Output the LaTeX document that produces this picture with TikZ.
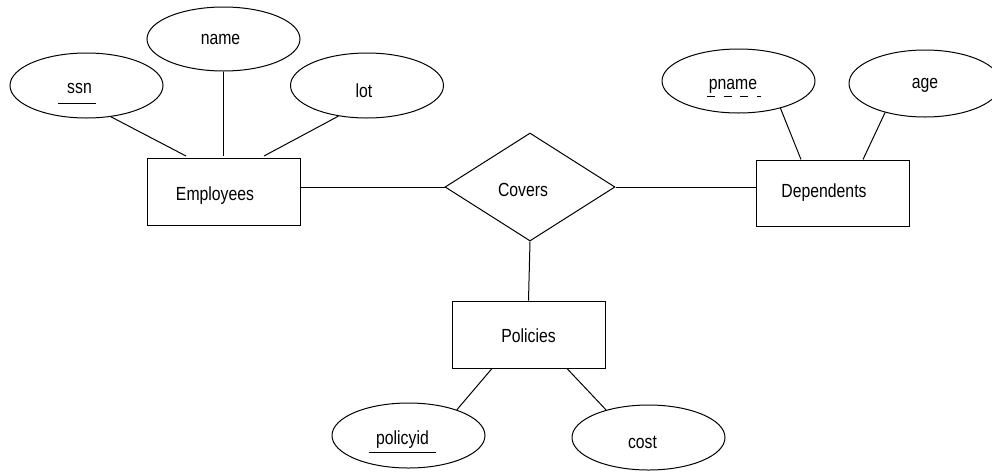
\documentclass[tikz,border=0pt]{standalone}
\usepackage{fontspec}
\setmainfont[FakeStretch=0.83]{Liberation Sans}
\usetikzlibrary{shapes.geometric,calc}
\begin{document}
\begin{tikzpicture}[x=1pt,y=-1pt,line width=1pt,
  attr/.style={draw,ellipse,minimum width=153pt,minimum height=65pt,inner sep=0pt},
  entity/.style={draw,rectangle,minimum width=153pt,minimum height=67pt,inner sep=0pt},
  rel/.style={draw,diamond,minimum width=170pt,minimum height=108pt,inner sep=0pt,aspect=1.57},
  keyline/.style={line width=0.9pt},
  every label/.style={font=\fontsize{19}{21}\selectfont,inner sep=0pt}]
\useasboundingbox (0,0) rectangle (992,472);
% entities
\node[entity,label={[xshift=-8.5pt,yshift=-3.5pt]center:Employees}] (emp) at (223.5,192) {};
\node[entity,minimum height=66pt,label={[xshift=-9pt]center:Dependents}] (dep) at (833,193) {};
\node[entity,label={[yshift=-1.5pt]center:Policies}] (pol) at (528.5,334.5) {};
% relationship
\node[rel,label={[xshift=-7pt,yshift=-2.5pt]center:Covers}] (cov) at (530,187) {};
% attributes
\node[attr,label={[xshift=-7pt,yshift=-2.5pt]center:ssn}] (ssn) at (86.5,85.5) {};
\node[attr,minimum height=64pt,label={[xshift=-3pt]center:name}] (name) at (223.5,39) {};
\node[attr,label={[xshift=-3pt,yshift=-5.5pt]center:lot}] (lot) at (367,85.5) {};
\node[attr,minimum height=64pt,label={[xshift=-5.5pt,yshift=-5pt]center:pname}] (pname) at (738.5,81) {};
\node[attr,minimum width=152pt,minimum height=67pt,label={[yshift=-2pt]center:age}] (age) at (925,83.5) {};
\node[attr,label={[xshift=-6pt,yshift=-4pt]center:policyid}] (pid) at (408.5,435.5) {};
\node[attr,label={[xshift=-6pt,yshift=-5pt]center:cost}] (cost) at (648.5,437.5) {};
% key underlines
\draw[keyline] ($(ssn)+(-28.5,17.5)$) -- ($(ssn)+(9.5,17.5)$);
\draw[keyline] ($(pid)+(-39.5,16.5)$) -- ($(pid)+(27.5,16.5)$);
\draw[keyline,dash pattern=on 8pt off 8.7pt] ($(pname)+(-31.5,15)$) -- ($(pname)+(22.5,15)$);
% connectors
\draw (ssn.-52) -- ($(emp.north)+(-37.5,-2)$);
\draw (name.south) -- ($(emp.north)+(0,-2)$);
\draw (lot.-133.6) -- ($(emp.north)+(40.5,-2)$);
\draw (cov.west) -- (cov.west -| emp.east);
\draw (cov.east) -- (cov.east -| dep.west);
\draw (cov.south) -- (pol.north);
\draw (pname.-33) -- ($(dep.north)+(-32,0)$);
\draw (age.-144) -- ($(dep.north)+(30,0)$);
\draw (pid.28) -- ($(pol.south)+(-36.5,0)$);
\draw (cost.147) -- ($(pol.south)+(38.5,0)$);
\end{tikzpicture}
\end{document}
